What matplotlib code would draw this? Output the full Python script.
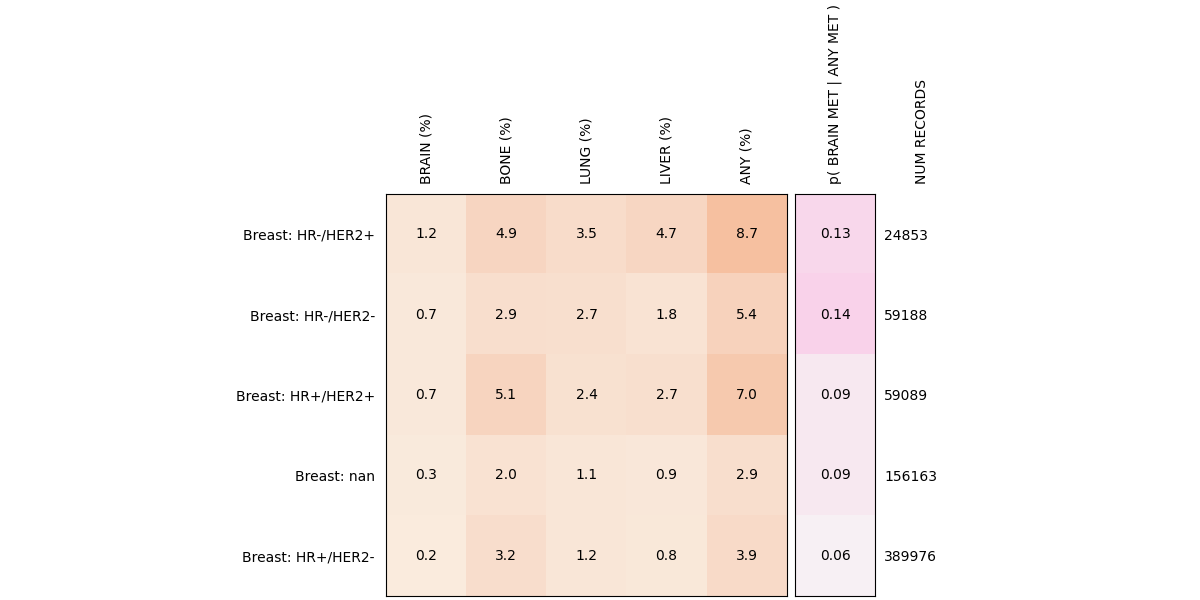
#!/usr/bin/env python3
"""
Metastasis site rates by breast subtype, with p(brain | any) and record counts.
"""

import numpy as np
import matplotlib.pyplot as plt
from matplotlib.colors import LinearSegmentedColormap

subtypes = ["Breast: HR-/HER2+", "Breast: HR-/HER2-", "Breast: HR+/HER2+",
            "Breast: nan", "Breast: HR+/HER2-"]
sites = ["BRAIN (%)", "BONE (%)", "LUNG (%)", "LIVER (%)", "ANY (%)"]
rates = [
    [1.2, 4.9, 3.5, 4.7, 8.7],
    [0.7, 2.9, 2.7, 1.8, 5.4],
    [0.7, 5.1, 2.4, 2.7, 7.0],
    [0.3, 2.0, 1.1, 0.9, 2.9],
    [0.2, 3.2, 1.2, 0.8, 3.9],
]
p_brain = [0.13, 0.14, 0.09, 0.09, 0.06]
num_records = [24853, 59188, 59089, 156163, 389976]


def main():
    rates_arr = np.array(rates)
    p_arr = np.array(p_brain).reshape(-1, 1)

    cmap_rate = LinearSegmentedColormap.from_list(
        "peach", ["#faebdd", "#f8d8c5", "#f6c0a0"])
    cmap_p = LinearSegmentedColormap.from_list(
        "pink", ["#f7f0f4", "#f8e6ef", "#f9d2ea"])

    fig = plt.figure(figsize=(12, 6), dpi=100)
    ax = fig.add_axes([0.3217, 0.0067, 0.334, 0.67])
    ax2 = fig.add_axes([0.6625, 0.0067, 0.0667, 0.67])

    ax.imshow(rates_arr, cmap=cmap_rate, vmin=0.2, vmax=8.7, aspect="auto")
    for i in range(rates_arr.shape[0]):
        for j in range(rates_arr.shape[1]):
            ax.text(j, i, f"{rates_arr[i, j]:.1f}", ha="center", va="center",
                    fontsize=10)
    ax.set_yticks(range(len(subtypes)))
    ax.set_yticklabels(subtypes)
    ax.set_xticks(range(len(sites)))
    ax.set_xticklabels(sites, rotation=90)
    ax.xaxis.tick_top()
    ax.tick_params(axis="x", length=0, pad=7)
    ax.tick_params(axis="y", length=0, pad=8)

    ax2.imshow(p_arr, cmap=cmap_p, vmin=0.06, vmax=0.14, aspect="auto")
    for i, v in enumerate(p_brain):
        ax2.text(0, i, f"{v:.2f}", ha="center", va="center", fontsize=10)
    ax2.set_xticks([0])
    ax2.set_xticklabels(["p( BRAIN MET | ANY MET )"], rotation=90)
    ax2.xaxis.tick_top()
    ax2.yaxis.tick_right()
    ax2.set_yticks(range(len(num_records)))
    ax2.set_yticklabels([str(n) for n in num_records])
    ax2.tick_params(axis="x", length=0, pad=7)
    ax2.tick_params(axis="y", length=0, pad=6.5)

    ax2.text(1.59, 1.0 + 10 / 402, "NUM RECORDS", transform=ax2.transAxes,
             rotation=90, ha="center", va="bottom", fontsize=10)

    fig.savefig("out.png", dpi=100)


if __name__ == "__main__":
    main()
